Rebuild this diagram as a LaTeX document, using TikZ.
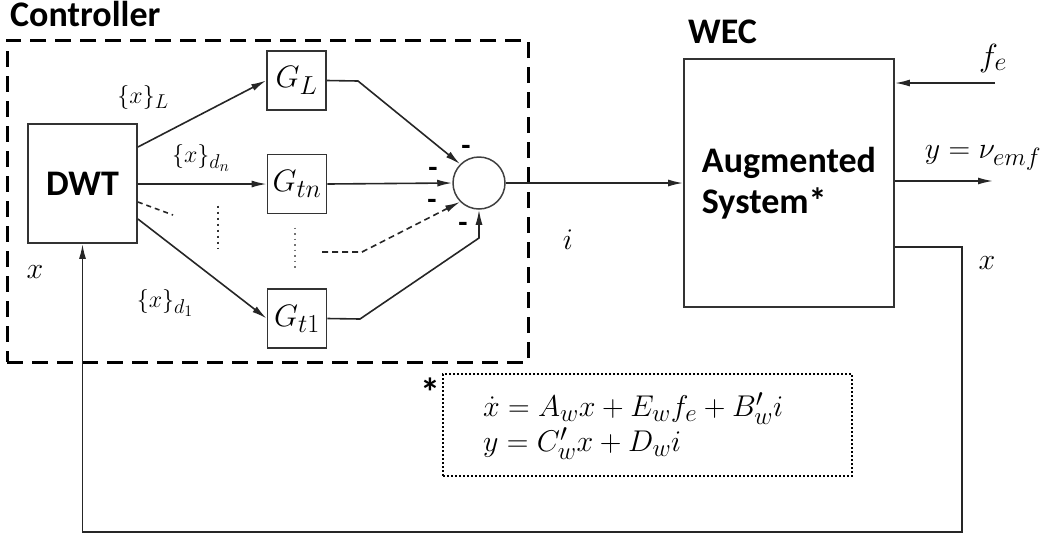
\RequirePackage{fix-cm}
\documentclass[tikz,border=0pt]{standalone}
\usepackage{fontspec}
\setmainfont{Carlito}
\usetikzlibrary{arrows.meta}
\DeclareMathSizes{30}{30}{25}{20}
\DeclareMathSizes{31}{31}{26}{21}
\DeclareMathSizes{32}{32}{26}{21}
\DeclareMathSizes{24}{24}{20}{16}
\begin{document}
\begin{tikzpicture}[x=1pt,y=-1pt,
  ln/.style={line width=1.6pt, draw=black!85},
  arr/.style={ln, -{Latex[length=15pt,width=7pt]}},
  blk/.style={draw=black!80, line width=1.8pt, inner sep=0pt},
  gbox/.style={blk, minimum size=59, font=\fontsize{31}{34}\selectfont},
  bold/.style={font=\bfseries\fontsize{36}{41}\selectfont, inner sep=0pt},
  mlbl/.style={font=\fontsize{30}{35}\selectfont, inner sep=0pt},
  slbl/.style={font=\fontsize{24}{28}\selectfont, inner sep=0pt},
  minus/.style={font=\bfseries\fontsize{30}{36}\selectfont, inner sep=0pt, anchor=base}]
\useasboundingbox (0,0) rectangle (1051,539);

% frames
\node[draw=black, line width=3pt, dash pattern=on 16pt off 9pt,
      minimum width=521, minimum height=322, inner sep=0pt] (ctrl) at (267.5,201) {};
\node[draw=black, line width=2.2pt, dash pattern=on 2pt off 2pt,
      minimum width=409, minimum height=102, inner sep=0pt] (eqbox) at (647.5,425) {};

% titles
\node[bold, anchor=base west] (ttlc) at (10,26) {Controller};
\node[bold, anchor=base west] (ttlw) at (688,43) {WEC};

% blocks
\node[blk, bold, minimum width=109, minimum height=119] (dwt) at (82.5,183.5) {DWT};
\node[gbox] (gl) at (296.5,80.5) {$G_L$};
\node[gbox] (gtn) at (297,184) {$G_{tn}$};
\node[gbox] (gt1) at (297,318.5) {$G_{t1}$};
\node[draw=black!75, line width=1.5pt, circle, minimum size=52, inner sep=0pt] (sum) at (479,183) {};
\node[blk, bold, minimum width=210, minimum height=248, align=left] (wec) at (789,183) {Augmented\\System*};

% coordinates
\coordinate (dsh) at (173,215);
\coordinate (cL) at (358,81);
\coordinate (cd1) at (322,252);
\coordinate (cd2) at (362,252);
\coordinate (c1) at (360,319);
\coordinate (c2) at (479,238);
\coordinate (fe0) at (995,83);
\coordinate (yout) at (993,181);
\coordinate (fbA) at (962,247);
\coordinate (fbB) at (962,532);

% DWT outputs
\draw[arr] ([yshift=36.5pt]dwt.east) -- (gl.west);
\draw[arr] (dwt.east |- gtn.west) -- (gtn.west);
\draw[ln, dash pattern=on 5pt off 4pt] ([yshift=-18.5pt]dwt.east) -- (dsh);
\draw[arr] ([yshift=-35.5pt]dwt.east) -- (gt1.west);

% ellipsis dots
\node[inner sep=0pt] (dotA) at (218,205) {};
\node[inner sep=0pt] (dotB) at (218,250) {};
\draw[line width=2.2pt, draw=black!80, dash pattern=on 2pt off 4pt] (dotA) -- (dotB);
\node[inner sep=0pt] (dotC) at (295,227) {};
\node[inner sep=0pt] (dotD) at (295,272) {};
\draw[line width=1.2pt, draw=black!55, dash pattern=on 1.5pt off 4pt] (dotC) -- (dotD);

% into summing junction
\draw[arr] (gl.east) -- (cL) -- (sum.135);
\draw[arr] (gtn.east) -- (sum.west);
\draw[arr, dash pattern=on 6pt off 4pt] (cd1) -- (cd2) -- (sum.-135);
\draw[arr] (gt1.east) -- (c1) -- (c2) -- (sum.south);

% minus signs
\node[minus] (m1) at (466,155) {-};
\node[minus] (m2) at (433,177) {-};
\node[minus] (m3) at (432,209) {-};
\node[minus] (m4) at (463,232) {-};

% to WEC and outputs
\draw[arr] (sum.east) -- (wec.west);
\draw[arr] (fe0) -- (wec.east |- fe0);
\draw[arr] (wec.east |- yout) -- (yout);
\draw[arr] (wec.east |- fbA) -- (fbA) -- (fbB) -- (dwt.south |- fbB) -- (dwt.south);

% labels
\node[slbl] (lxL) at (143,97) {$\{x\}_L$};
\node[slbl] (lxdn) at (201,158) {$\{x\}_{d_n}$};
\node[slbl] (lxd1) at (165,303) {$\{x\}_{d_1}$};
\node[mlbl] (lx1) at (35,272) {$x$};
\node[mlbl] (li) at (568,240) {$i$};
\node[mlbl, font=\fontsize{32}{36}\selectfont] (lfe) at (993,58) {$f_e$};
\node[mlbl] (ly) at (983,158) {$y=\nu_{emf}$};
\node[mlbl] (lx2) at (987,263) {$x$};

% equations
\node[font=\bfseries\fontsize{40}{44}\selectfont, inner sep=0pt] (star) at (430,392) {*};
\node[mlbl, anchor=north west, align=left] (eq) at (483,392)
  {$\dot{x}=A_w x+E_w f_e+B'_w i$\\$y=C'_w x+D_w i$};
\end{tikzpicture}
\end{document}
